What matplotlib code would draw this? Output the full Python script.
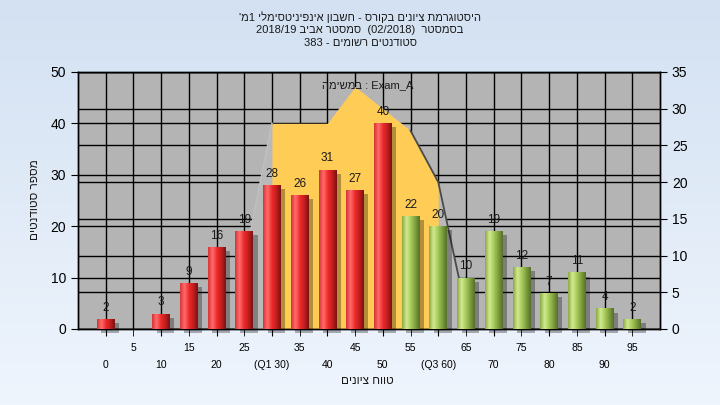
import re

import matplotlib

matplotlib.use("Agg")

import matplotlib.pyplot as plt
import numpy as np
from matplotlib.colors import LinearSegmentedColormap
from matplotlib.patches import Rectangle
from matplotlib.transforms import blended_transform_factory

plt.rcParams["font.family"] = ["Liberation Sans", "DejaVu Sans"]

# grade bins (lower edge) and number of students in each
scores = [0, 5, 10, 15, 20, 25, 30, 35, 40, 45, 50, 55, 60, 65, 70, 75, 80, 85, 90, 95]
counts = [2, 0, 3, 9, 16, 19, 28, 26, 31, 27, 40, 22, 20, 10, 19, 12, 7, 11, 4, 2]
pass_score = 55
q1_score = 30
q3_score = 60

# distribution curve, read on the right axis
curve_scores = [25, 30, 35, 40, 45, 50, 55, 60, 65]
curve_values = [9, 28, 28, 28, 33, 30, 27, 20, 2.5]

left_ticks = [0, 10, 20, 30, 40, 50]
right_ticks = [0, 5, 10, 15, 20, 25, 30, 35]

title_lines = [
    "היסטוגרמת ציונים בקורס - חשבון אינפיניטסימלי 1מ'",
    "בסמסטר  (02/2018)  סמסטר אביב 2018/19",
    "סטודנטים רשומים - 383",
]
task_label = "במשימה"
task_name = "Exam_A"
y_title = "מספר סטודנטים"
x_title = "טווח ציונים"


def rtl(text):
    """Visual order for a right-to-left line (matplotlib has no bidi)."""
    tokens = re.findall(r"[0-9A-Za-z_/.]+|.", text)
    mirror = {"(": ")", ")": "("}
    return "".join(mirror.get(t, t) for t in reversed(tokens))


def tick_text(s):
    if s == q1_score:
        return f"(Q1 {s})"
    if s == q3_score:
        return f"(Q3 {s})"
    return str(s)


fig = plt.figure(figsize=(7.2, 4.05), dpi=100)

# light blue gradient background
bg = fig.add_axes([0, 0, 1, 1], zorder=-10)
bg_cmap = LinearSegmentedColormap.from_list("bg", ["#eff5fd", "#d3e1f2"])
bg.imshow(np.linspace(0, 1, 256).reshape(-1, 1), cmap=bg_cmap, aspect="auto",
          extent=[0, 1, 0, 1], origin="lower")
bg.axis("off")

ax = fig.add_axes([0.1083, 0.1877, 0.8083, 0.6346])
ax2 = ax.twinx()
ax.set_zorder(2)
ax2.set_zorder(1)
ax.patch.set_visible(False)
ax2.patch.set_visible(True)
ax2.patch.set_facecolor("#b4b4b4")

xpos = list(range(len(scores)))
ax.set_xlim(-1, len(scores))
ax.set_ylim(0, 50)
ax2.set_ylim(0, 35)

# grid for both scales, under the curve fill
left_trans = blended_transform_factory(ax2.transAxes, ax.transData)
ax2.hlines(left_ticks, 0, 1, transform=left_trans, colors="black", lw=1, zorder=0.5)
ax2.hlines(right_ticks, 0, 1, transform=ax2.get_yaxis_transform(), colors="black",
           lw=1, zorder=0.5)
ax2.vlines(xpos, 0, 1, transform=ax2.get_xaxis_transform(), colors="black", lw=1,
           zorder=0.5)

# distribution curve, yellow between Q1 and Q3
cx = [scores.index(s) for s in curve_scores]
ax2.fill_between(cx, curve_values, color="#b9b9b9", lw=0, zorder=1)
in_iqr = [q1_score <= s <= q3_score for s in curve_scores]
ax2.fill_between(cx, curve_values, where=in_iqr, color="#ffcc55", lw=0, zorder=2)
tail = [i for i, s in enumerate(curve_scores) if s >= pass_score]
ax2.plot([cx[i] for i in tail], [curve_values[i] for i in tail], color="#4a4a4a",
         lw=1.3, zorder=2.5)
ax2.plot(cx[:2], curve_values[:2], color="#bfbfbf", lw=1.2, zorder=2.5)

# cylinder-like bars
red_cmap = LinearSegmentedColormap.from_list(
    "red", ["#d63434", "#ff6c6c", "#ee2a2a", "#c21e1e", "#7a1212"])
green_cmap = LinearSegmentedColormap.from_list(
    "green", ["#8aaa46", "#d2ea8e", "#a6ca5c", "#7e9e3c", "#55702a"])
grad = np.linspace(0, 1, 64).reshape(1, -1)
w = 0.64
for i, (s, c) in enumerate(zip(scores, counts)):
    if c == 0:
        continue
    cmap = green_cmap if s >= pass_score else red_cmap
    ax.add_patch(Rectangle((i - w / 2 + 0.16, -0.8), w, c, color="black", alpha=0.3,
                           lw=0, zorder=2.5, clip_on=False))
    bar = ax.bar(i, c, width=w, color=cmap(0.5), lw=0, zorder=3)[0]
    im = ax.imshow(grad, cmap=cmap, extent=[i - w / 2, i + w / 2, 0, c],
                   aspect="auto", zorder=3.1)
    im.set_clip_path(bar)
    ax.text(i, c + 1.0, str(c), ha="center", va="bottom", fontsize=8.5,
            color="#1a1a1a", zorder=5)
ax.set_xlim(-1, len(scores))
ax.set_ylim(0, 50)

ax.text(0.498, 0.949, rtl(task_label) + " : " + task_name, transform=ax.transAxes,
        ha="center", va="center", fontsize=8, color="#1a1a1a", zorder=6)

# staggered x labels: odd bins on the first row, even bins below
even = xpos[0::2]
odd = xpos[1::2]
ax.set_xticks(even, [tick_text(scores[i]) for i in even])
ax.set_xticks(odd, [tick_text(scores[i]) for i in odd], minor=True)
ax.tick_params(axis="x", which="major", length=5, pad=17, labelsize=7.5)
ax.tick_params(axis="x", which="minor", length=5, pad=5, labelsize=7.5)
ax.set_yticks(left_ticks)
ax.tick_params(axis="y", length=5, labelsize=10)
ax2.set_yticks(right_ticks)
ax2.tick_params(axis="y", length=5, labelsize=10)

for a in (ax, ax2):
    for sp in a.spines.values():
        sp.set_color("black")
        sp.set_linewidth(1)

for k, line in enumerate(title_lines):
    fig.text(0.5, 1 - (17 + 13 * k) / 405, rtl(line), ha="center", va="center",
             fontsize=8, color="#1a1a1a")
fig.text(35 / 720, 1 - 200 / 405, rtl(y_title), rotation=90, ha="center",
         va="center", fontsize=8.5, color="#1a1a1a")
fig.text(367 / 720, 1 - 381 / 405, rtl(x_title), ha="center", va="center",
         fontsize=8.5, color="#1a1a1a")

fig.savefig("out.png", dpi=100)
